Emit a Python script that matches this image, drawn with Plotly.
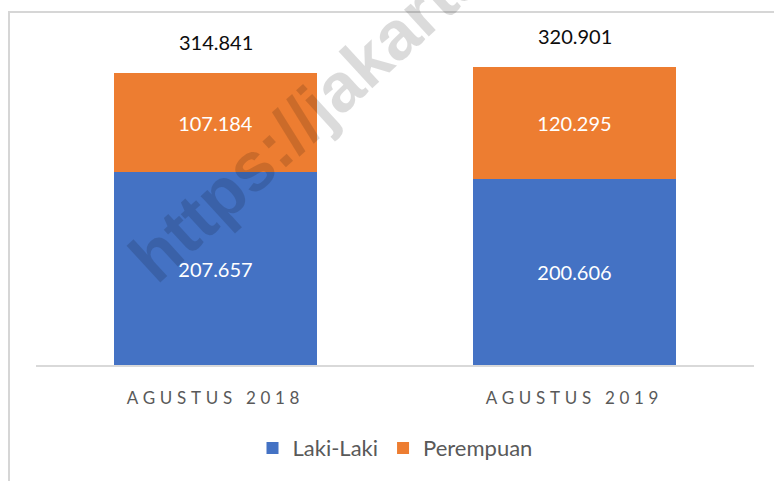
import plotly.graph_objects as go

categories = ["AGUSTUS 2018", "AGUSTUS 2019"]
laki_laki = [207657, 200606]
perempuan = [107184, 120295]
totals = [a + b for a, b in zip(laki_laki, perempuan)]

BLUE = "#4472C4"
ORANGE = "#ED7D31"
GRAY_TXT = "#595959"
FONT = "Lato"

fig = go.Figure()
fig.add_trace(go.Bar(
    name="Laki-Laki", x=categories, y=laki_laki, marker_color=BLUE,
    marker_line_width=0, width=0.563,
    texttemplate="%{y:,.0f}", textposition="inside", insidetextanchor="middle",
    textfont=dict(color="white", size=20, family=FONT),
))
fig.add_trace(go.Bar(
    name="Perempuan", x=categories, y=perempuan, marker_color=ORANGE,
    marker_line_width=0, width=0.563,
    texttemplate="%{y:,.0f}", textposition="inside", insidetextanchor="middle",
    textfont=dict(color="white", size=20, family=FONT),
))

for c, t in zip(categories, totals):
    fig.add_annotation(x=c, y=t, xref="x", yref="y", yanchor="middle",
                       yshift=31, showarrow=False,
                       text=f"{t:,}".replace(",", "."),
                       font=dict(color="#0d0d0d", size=20, family=FONT))

# watermark
fig.add_annotation(x=(428 - 36) / 718, y=(365 - 6) / 335, xref="paper", yref="paper",
                   xanchor="center", yanchor="middle", showarrow=False,
                   text="https://jakarta.bps.go.id", textangle=-42.5,
                   font=dict(color="rgba(0,0,0,0.14)", size=69,
                             family="Liberation Sans", weight="bold"))

# chart frame
fig.add_shape(type="rect", xref="paper", yref="paper",
              x0=(9 - 36) / 718, x1=(790 - 36) / 718,
              y0=(365 - 500) / 335, y1=(365 - 12) / 335,
              line=dict(color="#d6d6d6", width=2), layer="below")

fig.update_layout(
    width=774, height=481,
    margin=dict(l=36, r=20, t=30, b=116),
    barmode="stack", bargap=0.437,
    separators=",.",
    paper_bgcolor="white", plot_bgcolor="white",
    font=dict(family=FONT, color=GRAY_TXT),
    showlegend=True,
    legend=dict(orientation="h", x=0.5, xanchor="center", y=-0.248, yanchor="middle",
                font=dict(size=22, color=GRAY_TXT, family=FONT),
                traceorder="normal", itemwidth=30),
    xaxis=dict(showline=True, linecolor="#d9d9d9", linewidth=2, ticks="",
               tickfont=dict(size=17, color=GRAY_TXT, family=FONT),
               ticklabelstandoff=17, showgrid=False, zeroline=False),
    yaxis=dict(range=[0, 361200], visible=False, showgrid=False),
)

post = """
document.body.style.margin = '0';
document.body.style.padding = '0';
var gd = document.getElementById('{plot_id}');
function sp(){ gd.querySelectorAll('.xtick text').forEach(function(t){ t.style.letterSpacing='4.7px'; }); }
sp(); if (gd.on) { gd.on('plotly_afterplot', sp); }
"""
fig.write_html("out.html", post_script=post, config={"displayModeBar": False})
